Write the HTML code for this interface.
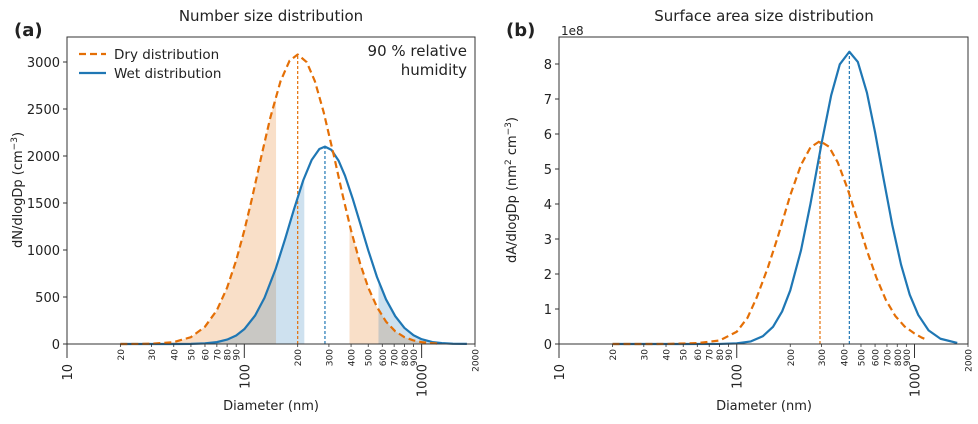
<!DOCTYPE html>
<html><head><meta charset="utf-8">
<style>
body{margin:0;background:#fff;}
svg text{font-family:"DejaVu Sans","Liberation Sans",sans-serif;fill:#222;}
</style></head>
<body>
<svg id="fig" width="978" height="419" viewBox="0 0 978 419" xmlns="http://www.w3.org/2000/svg"></svg>
<script>
// ---- data ----
const dryD = [20,25,30,40,50,60,70,80,90,100,110,125,140,160,180,200,225,250,280,320,360,400,450,500,560,630,710,800,900,1000,1100,1250];
const dryN = [0,0.7,2.8,20,73,184,359,600,890,1208,1533,2004,2404,2795,3014,3080,2998,2796,2469,2004,1570,1208,857,600,393,238,135,73,38,20,11,4];
const wetD = [20,30,40,50,60,70,80,90,100,115,130,150,170,190,215,240,265,285,310,340,370,410,450,500,560,630,710,800,900,1000,1150,1300,1500,1800];
const wetN = [0,0,0.2,1.7,7,20,47,91,158,302,492,795,1119,1425,1742,1959,2074,2100,2065,1951,1789,1537,1285,997,713,474,296,171,93,51,21,9,3,1];
const dryAD = [20,40,60,80,100,115,130,150,170,200,230,260,294,330,370,420,480,540,610,690,780,880,1000,1100,1180];
const dryA = [0,0.001,0.025,0.1,0.35,0.75,1.35,2.2,3.05,4.25,5.12,5.62,5.8,5.64,5.19,4.44,3.51,2.67,1.9,1.26,0.8,0.5,0.3,0.18,0.12];
const wetAD = [20,50,80,100,120,140,160,180,200,230,260,300,340,380,430,480,540,600,670,750,840,940,1050,1200,1400,1740];
const wetA = [0,0,0.002,0.017,0.074,0.22,0.49,0.93,1.53,2.68,4.01,5.73,7.11,7.99,8.35,8.06,7.18,6.05,4.72,3.4,2.27,1.41,0.83,0.39,0.15,0.03];
const dryPeakD = 200, dryPeakN = 3080, wetPeakD = 285, wetPeakN = 2100;
const dryPeakAD = 294, dryPeakA = 5.8, wetPeakAD = 430, wetPeakA = 8.35;
const yTicksN = [0,500,1000,1500,2000,2500,3000];
const yTicksA = [0,1,2,3,4,5,6,7,8];
const majorX = [10,100,1000];
const minorX = [20,30,40,50,60,70,80,90,200,300,400,500,600,700,800,900,2000];

const NS="http://www.w3.org/2000/svg";
const svg=document.getElementById('fig');
function mk(tag,attrs,parent,text){const e=document.createElementNS(NS,tag);for(const k in attrs)e.setAttribute(k,attrs[k]);if(text!==undefined)e.textContent=text;(parent||svg).appendChild(e);return e;}
const ORANGE="#e46f06", BLUE="#1f77b4";

function panel(x0,x1,y0,yTop,yZero,yScale,name){
  const g=mk('g',{});
  
  
  const xs=d=>x0+(Math.log10(d)-1)/Math.log10(200)*(x1-x0);
  const ys=v=>yZero-v*yScale;
  return {g,xs,ys,x0,x1,y0,yTop};
}
function pathOf(p,D,V){return D.map((d,i)=>(i?'L':'M')+p.xs(d).toFixed(2)+','+p.ys(V[i]).toFixed(2)).join('');}
function fillRegion(p,D,V,lo,hi,color,name){
  const pts=[];
  for(let i=0;i<D.length;i++){if(D[i]>=lo&&D[i]<=hi)pts.push([D[i],V[i]]);}
  function interp(d){for(let i=0;i<D.length-1;i++){if(D[i]<=d&&D[i+1]>=d){const t=(Math.log10(d)-Math.log10(D[i]))/(Math.log10(D[i+1])-Math.log10(D[i]));return V[i]+t*(V[i+1]-V[i]);}}return 0;}
  if(lo>D[0])pts.unshift([lo,interp(lo)]);
  if(hi<D[D.length-1])pts.push([hi,interp(hi)]);
  let d='M'+p.xs(pts[0][0])+','+p.ys(0);
  pts.forEach(q=>d+='L'+p.xs(q[0]).toFixed(2)+','+p.ys(q[1]).toFixed(2));
  d+='L'+p.xs(pts[pts.length-1][0])+','+p.ys(0)+'Z';
  const e=mk('path',{d,fill:color,'fill-opacity':0.22},p.g);
  
  
}
function axes(p,yTicks,fmt){
  const g=p.g;
  yTicks.forEach(v=>{
    const y=p.ys(v);
    mk('line',{x1:p.x0-4,x2:p.x0,y1:y,y2:y,stroke:'#333','stroke-width':1},g);
    const t=mk('text',{x:p.x0-7,y:y+5,'font-size':13,'text-anchor':'end'},g,fmt(v));
    
    
  });
  majorX.forEach(d=>{
    const x=p.xs(d);
    mk('line',{x1:x,x2:x,y1:p.y0,y2:p.y0+14,stroke:'#333','stroke-width':1},g);
    const t=mk('text',{x:0,y:0,'font-size':13,'text-anchor':'end',transform:`translate(${x+5},${p.y0+20}) rotate(-90)`},g,String(d));
    
    
  });
  minorX.forEach(d=>{
    const x=p.xs(d);
    mk('line',{x1:x,x2:x,y1:p.y0,y2:p.y0+3,stroke:'#333','stroke-width':0.8},g);
    const t=mk('text',{x:0,y:0,'font-size':9,'text-anchor':'end',transform:`translate(${x+3.5},${p.y0+5}) rotate(-90)`},g,String(d));
    
    
  });
  const fr=mk('rect',{x:p.x0,y:p.yTop,width:p.x1-p.x0,height:p.y0-p.yTop,fill:'none',stroke:'#333','stroke-width':1},g);
  
  
}
function series(p,D,V,color,dashed,name){
  const e=mk('path',{d:pathOf(p,D,V),fill:'none',stroke:color,'stroke-width':2.2,'stroke-linejoin':'round','stroke-dasharray':dashed?'7,4':'none'},p.g);
  
  
}
function vline(p,d,v,color,name){
  const e=mk('line',{x1:p.xs(d),x2:p.xs(d),y1:p.ys(0),y2:p.ys(v),stroke:color,'stroke-width':1.2,'stroke-dasharray':'3,2'},p.g);
  
  
}

// ---- panel a ----
const A=panel(67,475,344,37,344,0.094,'number-size-panel');
fillRegion(A,dryD,dryN,25,151,ORANGE,'dry-fill-low');
fillRegion(A,dryD,dryN,392,1250,ORANGE,'dry-fill-high');
fillRegion(A,wetD,wetN,30,218,BLUE,'wet-fill-low');
fillRegion(A,wetD,wetN,571,1800,BLUE,'wet-fill-high');
vline(A,dryPeakD,dryPeakN,ORANGE,'dry-peak-line');
vline(A,wetPeakD,wetPeakN,BLUE,'wet-peak-line');
series(A,wetD,wetN,BLUE,false,'wet-number-line');
series(A,dryD,dryN,ORANGE,true,'dry-number-line');
axes(A,yTicksN,v=>String(v));

// ---- panel b ----
const B=panel(559,968,344,37,344,35,'surface-area-panel');
vline(B,dryPeakAD,dryPeakA,ORANGE,'dry-area-peak-line');
vline(B,wetPeakAD,wetPeakA,BLUE,'wet-area-peak-line');
series(B,wetAD,wetA,BLUE,false,'wet-area-line');
series(B,dryAD,dryA,ORANGE,true,'dry-area-line');
axes(B,yTicksA,v=>String(v));
</script>
<svg style="position:absolute;left:0;top:0" width="978" height="419">
  <text x="14" y="36" font-size="18" font-weight="bold">(a)</text>
  <text x="506" y="36" font-size="18" font-weight="bold">(b)</text>
  <text x="271" y="21" font-size="15" text-anchor="middle">Number size distribution</text>
  <text x="764" y="21" font-size="15" text-anchor="middle">Surface area size distribution</text>
  <text x="561" y="35" font-size="12">1e8</text>
  <text x="467" y="56" font-size="15" text-anchor="end">90 % relative</text>
  <text x="467" y="75" font-size="15" text-anchor="end">humidity</text>
  <g>
    <line x1="79" x2="106" y1="54" y2="54" stroke="#e46f06" stroke-width="2.2" stroke-dasharray="7,4"/>
    <text x="114" y="59" font-size="13.5">Dry distribution</text>
    <line x1="79" x2="106" y1="73" y2="73" stroke="#1f77b4" stroke-width="2.2"/>
    <text x="114" y="78" font-size="13.5">Wet distribution</text>
  </g>
  <text x="271" y="410" font-size="13" text-anchor="middle">Diameter (nm)</text>
  <text x="764" y="410" font-size="13" text-anchor="middle">Diameter (nm)</text>
  <text transform="translate(22,190) rotate(-90)" font-size="13" text-anchor="middle">dN/dlogDp (cm<tspan dy="-5" font-size="9">−3</tspan><tspan dy="5">)</tspan></text>
  <text transform="translate(516,190) rotate(-90)" font-size="13" text-anchor="middle">dA/dlogDp (nm<tspan dy="-5" font-size="9">2</tspan><tspan dy="5"> cm</tspan><tspan dy="-5" font-size="9">−3</tspan><tspan dy="5">)</tspan></text>
</svg>
</body></html>
